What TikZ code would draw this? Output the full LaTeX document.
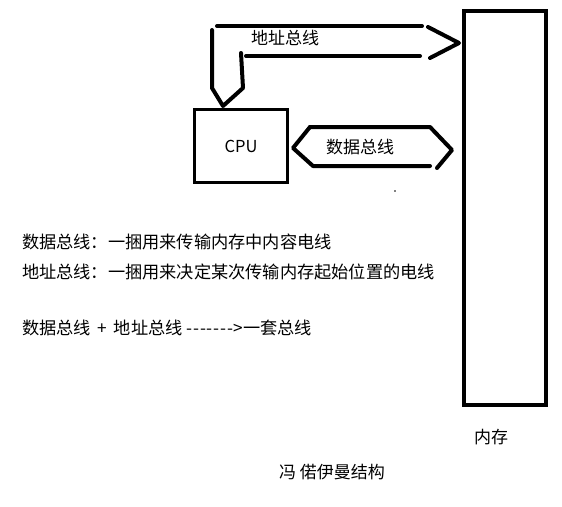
\documentclass[tikz,border=0pt]{standalone}
\usepackage{fontspec}
\setmainfont{Noto Sans CJK SC}
\newcommand{\dsh}{{-}\kern0.8pt}
\begin{document}
\begin{tikzpicture}[x=1pt,y=-1pt,
  bus/.style={line width=4pt, line cap=round, line join=round},
  box/.style={draw, inner sep=0pt},
  txt/.style={inner sep=0pt, font=\fontsize{17.2}{20}\selectfont},
  lbl/.style={inner sep=0pt, font=\fontsize{17}{20}\selectfont}]
\useasboundingbox[fill=white] (0,0) rectangle (562,506);

% memory and CPU
\node[box, line width=4pt, minimum width=82pt, minimum height=394pt] (mem) at (505,208) {};
\node[box, line width=3pt, minimum width=93pt, minimum height=73pt] (cpu) at (241,146) {};
\node[inner sep=0pt, font=\fontsize{16.5}{20}\selectfont] (cpulbl) at (cpu.center) {CPU};

% address bus: double line from the CPU to memory
\draw[bus] (217,26) -- (422,26);
\draw[bus] (246,56) -- (420,56);
\draw[bus] (428,27) -- (459,43) -- (430,58);
\draw[bus] (212,30) -- (212,88) -- (223,106) -- (243,88) -- (241,53);
\node[lbl] (addrlbl) at (285,38) {地址总线};

% data bus: double-headed between CPU and memory
\draw[bus] (310,127) -- (430,127) -- (452,150) -- (437,168);
\draw[bus] (310,127) -- (293,148) -- (313,166) -- (430,166);
\node[lbl] (datalbl) at (360,147) {数据总线};
\fill (395,191) circle (0.8pt);

% notes
\node[txt, anchor=west] (n1) at (22,242) {数据总线：一捆用来传输内存中内容电线};
\node[txt, anchor=west] (n2) at (22,272) {地址总线：一捆用来决定某次传输内存起始位置的电线};
\node[txt, anchor=west] (n3) at (22,328) {数据总线 \,+\, 地址总线 \dsh\dsh\dsh\dsh\dsh\dsh{-}\kern0.5pt>一套总线};

\node[lbl] (memlbl) at (491,437) {内存};
\node[lbl] (title) at (332,472) {冯 偌伊曼结构};
\end{tikzpicture}
\end{document}
